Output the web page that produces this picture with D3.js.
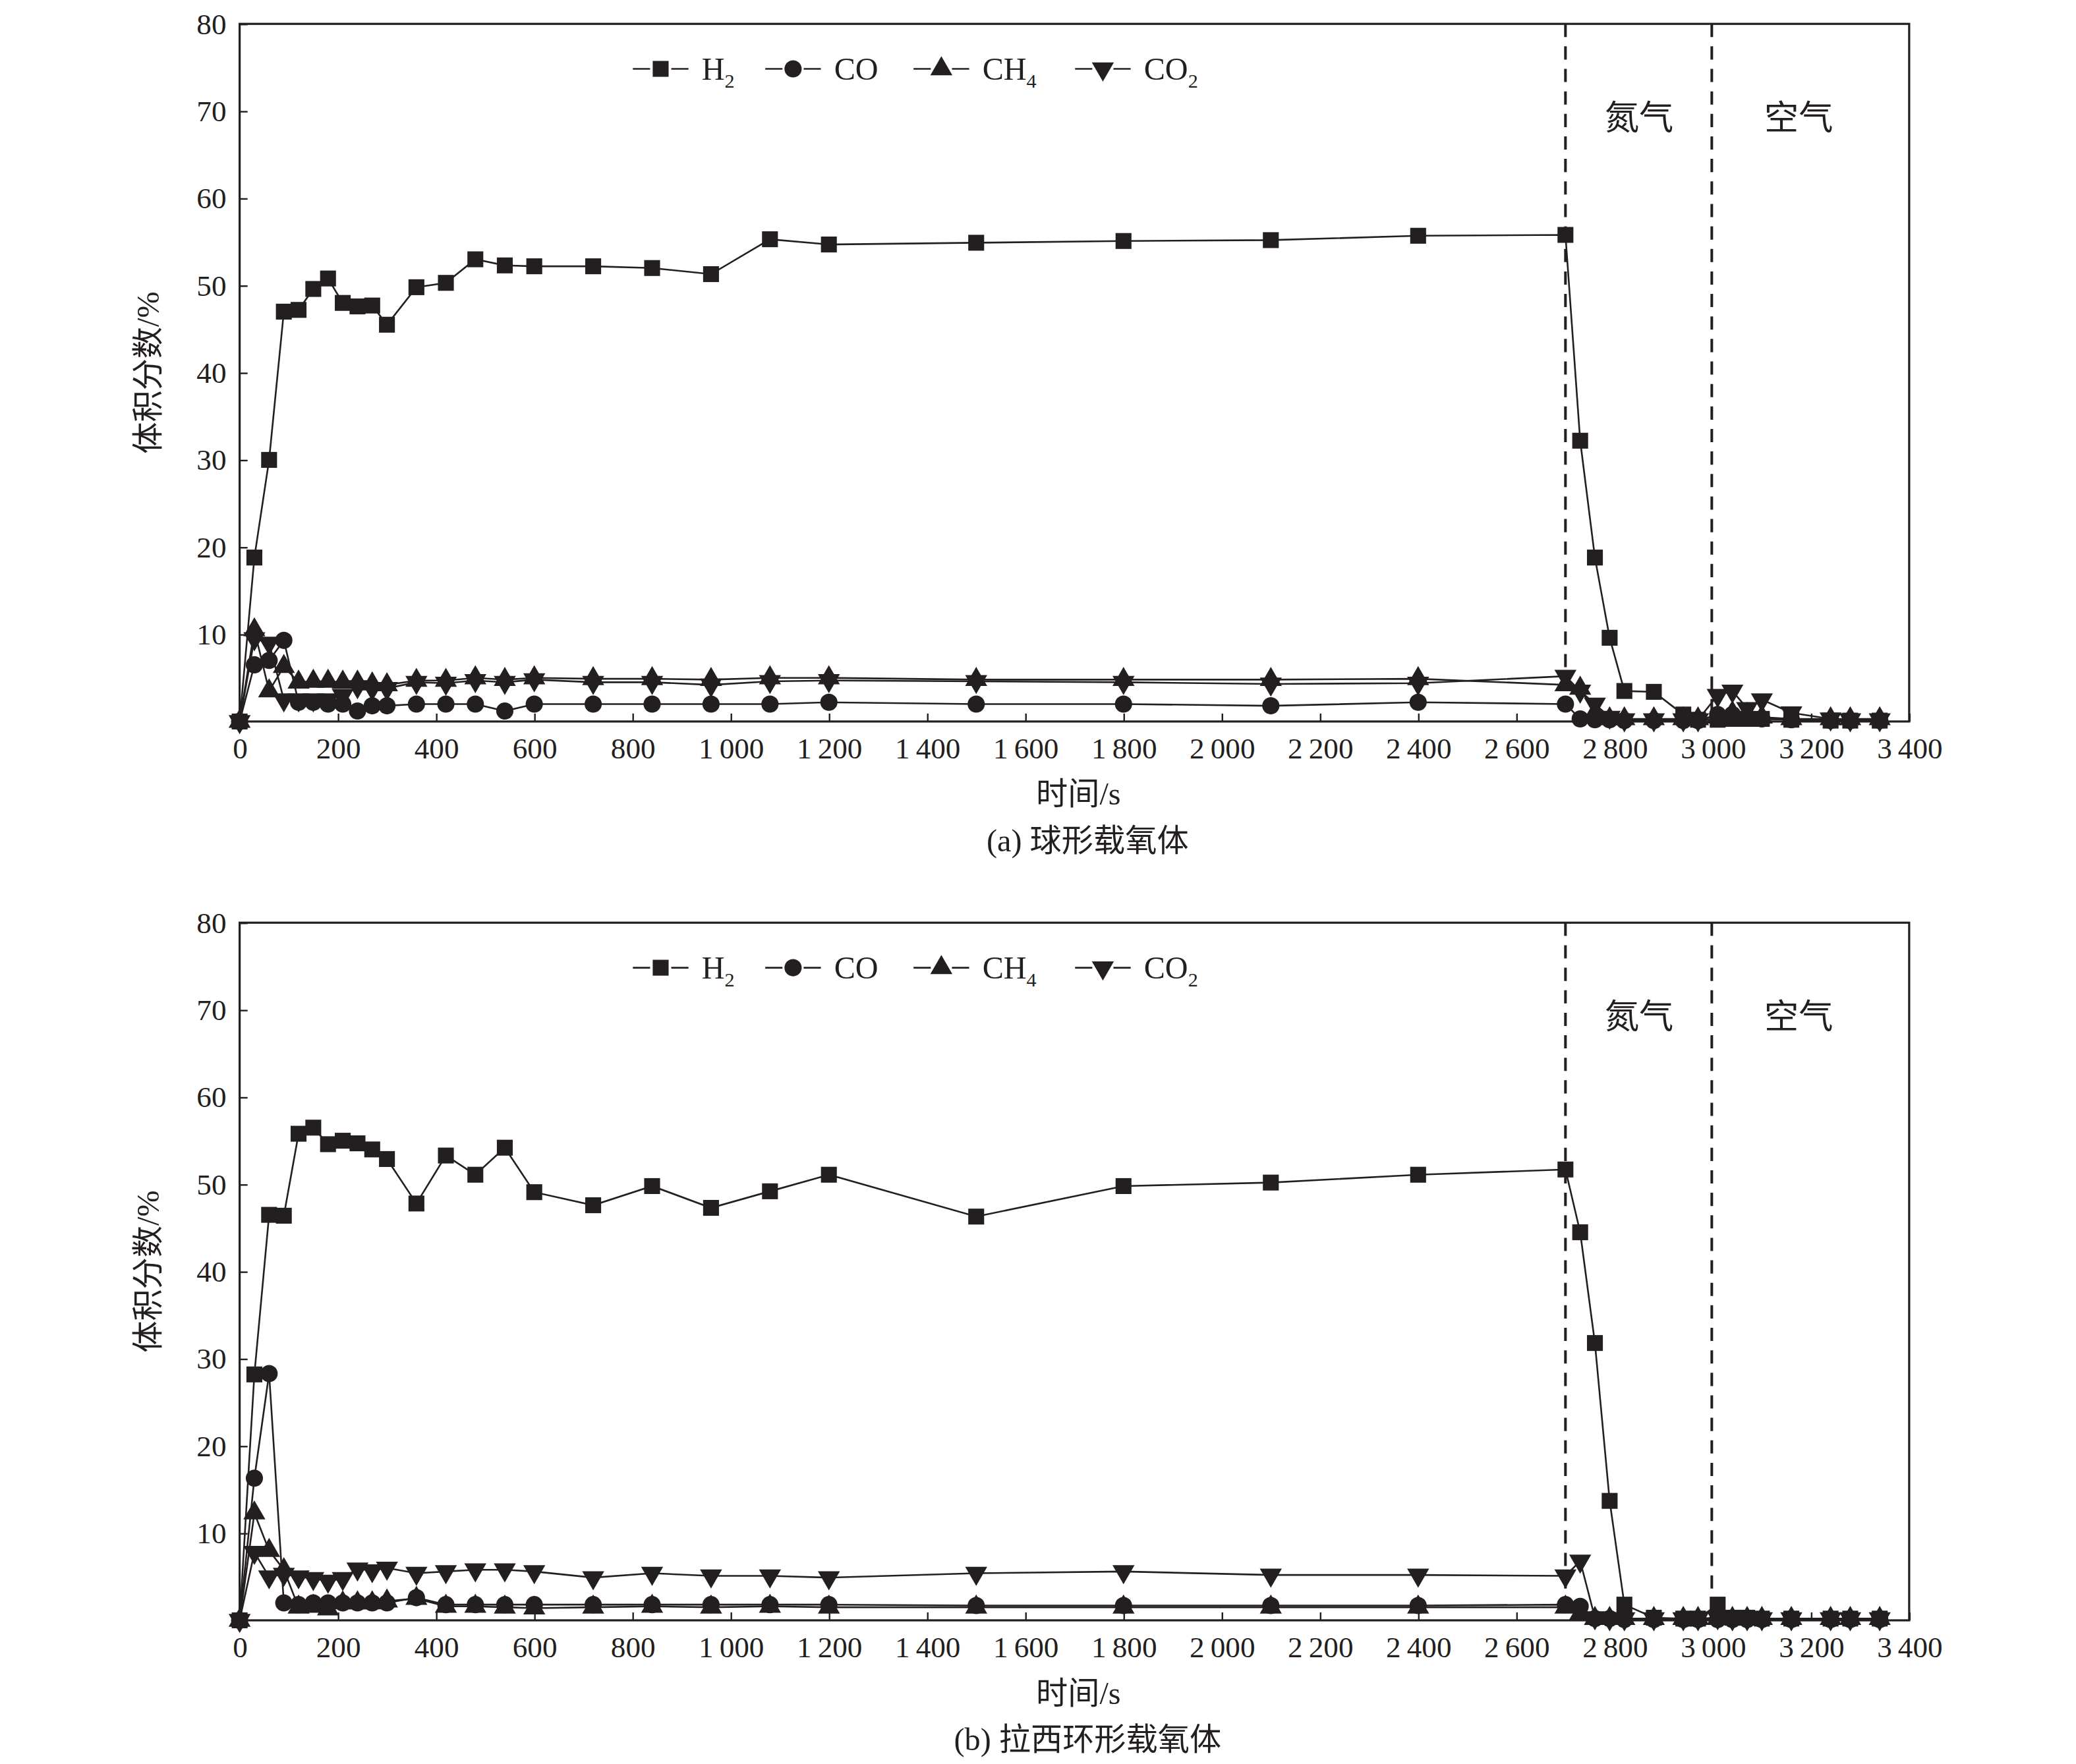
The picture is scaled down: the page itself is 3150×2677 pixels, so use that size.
<!DOCTYPE html>
<html>
<head>
<meta charset="utf-8">
<script src="https://cdn.jsdelivr.net/npm/d3@7"></script>
<style>
  body { margin: 0; background: #fff; }
  text { font-family: "Liberation Serif", "Noto Sans CJK SC", serif; fill: #231f20; }
</style>
</head>
<body>
<svg id="chart" width="3150" height="2677" viewBox="0 0 1568 1332.5"></svg>
<script>
// time points (s)
const times = [0, 30, 60, 90, 120, 150, 180, 210, 240, 270, 300, 360, 420, 480, 540, 600,
  720, 840, 960, 1080, 1200, 1500, 1800, 2100, 2400, 2700,
  2730, 2760, 2790, 2820, 2880, 2940, 2970, 3010, 3040, 3070, 3100, 3160, 3240, 3280, 3340];

// (a) spherical oxygen carrier
const h2A = [0, 18.8, 30, 47, 47.2, 49.6, 50.8, 48, 47.6, 47.7, 45.5, 49.8, 50.3, 53, 52.3, 52.2,
  52.2, 52, 51.3, 55.3, 54.7, 54.9, 55.1, 55.2, 55.7, 55.8,
  32.2, 18.8, 9.6, 3.5, 3.4, 0.8, 0.2, 0.2, 0.3, 0.3, 0.3, 0.2, 0.1, 0.1, 0.1];
const coA = [0, 6.5, 7, 9.3, 2.2, 2.2, 2, 2, 1.2, 1.8, 1.8, 2, 2, 2, 1.2, 2,
  2, 2, 2, 2, 2.2, 2, 2, 1.8, 2.2, 2,
  0.3, 0.2, 0.2, 0.1, 0.1, 0.1, 0.1, 0.8, 0.8, 0.5, 0.3, 0.2, 0.1, 0.1, 0.1];
const ch4A = [0, 10.5, 3.5, 6.3, 4.5, 4.6, 4.6, 4.5, 4.5, 4.3, 4.2, 4.7, 4.7, 5, 4.8, 5,
  4.9, 4.9, 4.8, 5, 5, 4.8, 4.8, 4.8, 4.9, 4.2,
  3.8, 1, 0.3, 0.3, 0.3, 0.3, 0.3, 0.5, 1, 0.8, 0.5, 0.3, 0.3, 0.3, 0.3];
const co2A = [0, 9.5, 9, 2.5, 2.5, 2.5, 2.5, 3, 4, 3.8, 3.8, 4.5, 4.4, 4.7, 4.5, 4.8,
  4.5, 4.5, 4.2, 4.6, 4.7, 4.6, 4.5, 4.3, 4.4, 5.2,
  3.5, 2, 0.5, 0.2, 0.2, 0.2, 0.2, 3, 3.5, 1.5, 2.5, 1, 0.3, 0.2, 0.2];

// (b) Raschig-ring oxygen carrier
const h2B = [0, 28.2, 46.5, 46.4, 55.8, 56.5, 54.6, 55, 54.7, 54, 52.9, 47.8, 53.3, 51.1, 54.2, 49.1,
  47.6, 49.8, 47.3, 49.2, 51.1, 46.3, 49.8, 50.2, 51.1, 51.7,
  44.5, 31.8, 13.7, 1.8, 0.3, 0.2, 0.2, 1.8, 0.3, 0.3, 0.2, 0.2, 0.2, 0.2, 0.2];
const coB = [0, 16.3, 28.3, 2, 1.8, 2, 2, 2, 2, 2, 2, 2.6, 1.8, 1.8, 1.8, 1.8,
  1.8, 1.8, 1.8, 1.8, 1.8, 1.7, 1.7, 1.7, 1.7, 1.8,
  1.6, 0.2, 0.2, 0.1, 0.1, 0.1, 0.1, 0.1, 0.1, 0.1, 0.1, 0.1, 0.1, 0.1, 0.1];
const ch4B = [0, 12.3, 8, 5.8, 1.5, 1.6, 1.3, 2, 2, 2, 2.2, 2.5, 1.6, 1.6, 1.5, 1.4,
  1.5, 1.6, 1.5, 1.6, 1.5, 1.5, 1.5, 1.5, 1.5, 1.5,
  0.8, 0.2, 0.2, 0.2, 0.2, 0.2, 0.2, 0.2, 0.2, 0.2, 0.2, 0.2, 0.2, 0.2, 0.2];
const co2B = [0, 7.8, 5, 5.3, 5, 4.8, 4.5, 4.8, 5.9, 5.7, 6, 5.4, 5.6, 5.8, 5.8, 5.6,
  4.9, 5.4, 5.1, 5.1, 4.9, 5.4, 5.6, 5.2, 5.2, 5.1,
  6.8, 0.3, 0.2, 0.2, 0.2, 0.2, 0.2, 0.3, 0.2, 0.2, 0.2, 0.2, 0.2, 0.2, 0.2];

const xTicks = [0, 200, 400, 600, 800, 1000, 1200, 1400, 1600, 1800, 2000, 2200, 2400, 2600, 2800, 3000, 3200, 3400];
const yTicks = [10, 20, 30, 40, 50, 60, 70, 80];
const phaseLines = [2700, 2998];
const phaseLabels = [{t: 2850, name: "氮气"}, {t: 3175, name: "空气"}];
const seriesNames = ["H2", "CO", "CH4", "CO2"];
const symbols = ["square", "circle", "up", "down"];

const panels = [
  {top: 18, caption: "(a) 球形载氧体", data: [h2A, coA, ch4A, co2A]},
  {top: 697, caption: "(b) 拉西环形载氧体", data: [h2B, coB, ch4B, co2B]}
];

const svg = d3.select("#chart");
const left = 181, right = 1442, plotH = 527;
const x = d3.scaleLinear().domain([0, 3400]).range([left, right]);
const fmt = v => v >= 1000 ? Math.floor(v / 1000) + "\u2009" + String(v % 1000).padStart(3, "0") : String(v);

function drawMarker(g, type, cx, cy) {
  if (type === "square") {
    g.append("rect").attr("x", cx - 6).attr("y", cy - 6).attr("width", 12).attr("height", 12).attr("fill", "#231f20");
  } else if (type === "circle") {
    g.append("circle").attr("cx", cx).attr("cy", cy).attr("r", 6.5).attr("fill", "#231f20");
  } else {
    const tri = d3.symbol().type(d3.symbolTriangle).size(120);
    g.append("path").attr("d", tri())
      .attr("transform", `translate(${cx},${cy})` + (type === "down" ? " rotate(180)" : ""))
      .attr("fill", "#231f20");
  }
}

panels.forEach(p => {
  const y = d3.scaleLinear().domain([0, 80]).range([p.top + plotH, p.top]);
  const g = svg.append("g");

  // axes, ticks pointing inward
  g.append("g").attr("transform", `translate(0,${p.top + plotH})`)
    .call(d3.axisBottom(x).tickValues(xTicks).tickSize(-6).tickPadding(12).tickFormat(fmt))
    .call(a => a.select(".domain").remove())
    .call(a => a.selectAll("text").attr("font-size", 22.5).attr("fill", "#231f20"))
    .call(a => a.selectAll("line").attr("stroke", "#231f20").attr("stroke-width", 1.2));
  g.append("g").attr("transform", `translate(${left},0)`)
    .call(d3.axisLeft(y).tickValues(yTicks).tickSize(-6).tickPadding(10))
    .call(a => a.select(".domain").remove())
    .call(a => a.selectAll("text").attr("font-size", 22.5).attr("fill", "#231f20"))
    .call(a => a.selectAll("line").attr("stroke", "#231f20").attr("stroke-width", 1.2));

  g.append("rect").attr("x", left).attr("y", p.top).attr("width", right - left).attr("height", plotH)
    .attr("fill", "none").attr("stroke", "#231f20").attr("stroke-width", 1.6);

  // phase separators
  phaseLines.forEach(t => {
    g.append("line").attr("x1", x(t)).attr("x2", x(t)).attr("y1", p.top).attr("y2", p.top + plotH)
      .attr("stroke", "#231f20").attr("stroke-width", 2).attr("stroke-dasharray", "10,7");
  });
  phaseLabels.forEach(l => {
    g.append("text").attr("x", x(l.t)).attr("y", y(70) + 14).attr("text-anchor", "middle")
      .attr("font-size", 26).text(l.name);
  });

  // series
  const line = d3.line().x(d => x(d[0])).y(d => y(d[1]));
  p.data.forEach((vals, i) => {
    const pts = times.map((t, k) => [t, vals[k]]);
    g.append("path").datum(pts).attr("d", line).attr("fill", "none")
      .attr("stroke", "#231f20").attr("stroke-width", 1.3);
    pts.forEach(d => drawMarker(g, symbols[i], x(d[0]), y(d[1])));
  });

  // legend
  const lx = [478, 578, 690, 812];
  const ly = p.top + 34;
  seriesNames.forEach((name, i) => {
    g.append("line").attr("x1", lx[i]).attr("x2", lx[i] + 42).attr("y1", ly).attr("y2", ly)
      .attr("stroke", "#231f20").attr("stroke-width", 1.3);
    g.append("rect").attr("x", lx[i] + 13).attr("y", ly - 1).attr("width", 16).attr("height", 2).attr("fill", "#fff");
    drawMarker(g, symbols[i], lx[i] + 21, ly);
    const txt = g.append("text").attr("x", lx[i] + 52).attr("y", ly + 8).attr("font-size", 24);
    const m = name.match(/^([A-Z]+)(\d?)$/);
    txt.append("tspan").text(m[1]);
    if (m[2]) txt.append("tspan").attr("font-size", 15).attr("dy", 6).text(m[2]);
  });

  // titles
  g.append("text").attr("transform", `translate(120,${p.top + plotH / 2}) rotate(-90)`)
    .attr("text-anchor", "middle").attr("font-size", 24).text("体积分数/%");
  g.append("text").attr("x", (left + right) / 2 + 3).attr("y", p.top + plotH + 63)
    .attr("text-anchor", "middle").attr("font-size", 24).text("时间/s");
  g.append("text").attr("x", (left + right) / 2 + 10).attr("y", p.top + plotH + 98)
    .attr("text-anchor", "middle").attr("font-size", 24).text(p.caption);
});
</script>
</body>
</html>
